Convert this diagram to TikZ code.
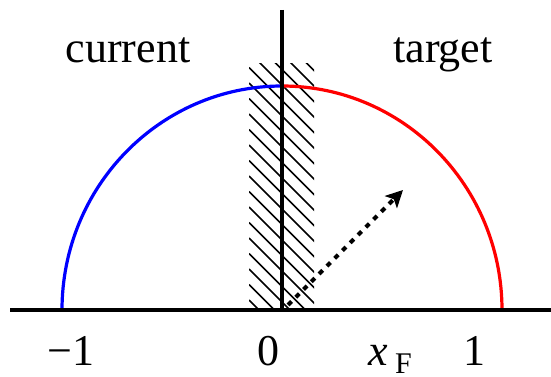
\documentclass[tikz,border=0pt]{standalone}
\usepackage{fontspec}
\setmainfont{Liberation Serif}
\usetikzlibrary{arrows.meta}
\begin{document}
\begin{tikzpicture}[x=1pt,y=-1pt,
  axis/.style={line width=3.2pt},
  halfarc/.style={line width=3.2pt},
  hatchline/.style={line width=1.6pt},
  lbl/.style={font=\fontsize{44}{48}\selectfont, anchor=base, inner sep=0pt},
  motion/.style={line width=4pt, dash pattern=on 5pt off 6pt, -{Stealth[length=17pt,width=17pt,inset=4pt]}}]
\useasboundingbox (0,0) rectangle (551,377);
\coordinate (O) at (282,310);
\coordinate (L) at (62,310);
\coordinate (T) at (282,86);
\coordinate (AL) at (10,310);
\coordinate (AR) at (551,310);
\coordinate (VT) at (282,10);
\coordinate (As) at (288,305);
\coordinate (Ae) at (403,190);
% hatched band
\begin{scope}
  \clip (249,64) rectangle (314,310);
  \foreach \k in {0,...,22}
    \draw[hatchline] (249,{-10+\k*15.5}) -- ++(90,90);
\end{scope}
% arcs
\draw[halfarc, blue] (L) arc[start angle=180, end angle=270, x radius=220, y radius=224];
\draw[halfarc, red] (T) arc[start angle=270, end angle=360, x radius=220, y radius=224];
% axes
\draw[axis] (AL) -- (AR);
\draw[axis] (VT) -- (O);
% arrow
\draw[motion] (As) -- (Ae);
% labels
\node[lbl] (cur) at (128,63) {current};
\node[lbl] (tgt) at (443,63) {target};
\node[lbl] (m1) at (71,365) {−1};
\node[lbl] (z) at (268,365) {0};
\node[lbl] (p1) at (474,365) {1};
\node[lbl, anchor=base west] (xf) at (368,365) {\itshape x\,\raisebox{-8pt}{\fontsize{30}{32}\selectfont\upshape F}};
\end{tikzpicture}
\end{document}
